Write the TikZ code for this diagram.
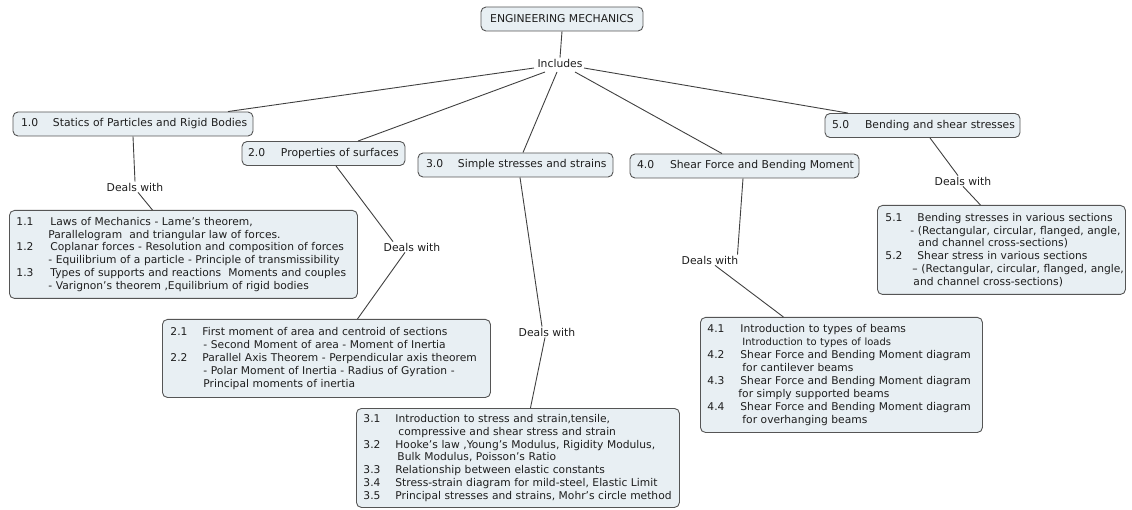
\documentclass[tikz,border=0pt]{standalone}
\usepackage{fontspec}
\setmainfont{DejaVu Sans}
\definecolor{boxfill}{HTML}{E8EFF3}
\definecolor{boxline}{HTML}{555555}
\definecolor{ink}{HTML}{1E1E1E}
\newcommand\itm[3][34pt]{\mbox{\makebox[#1][l]{#2}#3}}
\newcommand\cnt[2]{\mbox{\hspace*{#1}#2}}
\newcommand\detfont{\fontsize{10.7}{12.8}\selectfont}
\newcommand\topfont{\fontsize{10.8}{12}\selectfont}
\tikzset{
  cbox/.style={draw=boxline, fill=boxfill, rounded corners=5pt, line width=0.9pt,
    align=left, text=ink, inner ysep=3pt},
  topbox/.style={cbox, font=\topfont, minimum height=24pt},
  detbox/.style={cbox, font=\detfont, inner xsep=7pt, anchor=north west},
  lbl/.style={font=\topfont, text=ink, inner sep=1pt},
  conn/.style={draw=ink!85, line width=0.9pt}
}
\begin{document}
\begin{tikzpicture}[x=1pt,y=-1pt]
\useasboundingbox (0,0) rectangle (1132,510);

% root and linking phrase
\node[cbox, font=\topfont, minimum width=162pt, minimum height=24pt, inner xsep=6pt] (root) at (562,19) {ENGINEERING MECHANICS};
\node[lbl] (inc) at (560,63) {Includes};

% level-1 concepts
\node[topbox, inner xsep=8pt, text width=224pt] (n1) at (133,124) {\itm[32pt]{1.0}{Statics of Particles and Rigid Bodies}};
\node[topbox, inner xsep=6pt, text width=151pt] (n2) at (323.5,153.5) {\itm[33pt]{2.0}{Properties of surfaces}};
\node[topbox, inner xsep=8pt, text width=179pt] (n3) at (515.5,165) {\itm[32pt]{3.0}{Simple stresses and strains}};
\node[topbox, inner xsep=7pt, text width=215pt] (n4) at (744.5,166) {\itm[33pt]{4.0}{Shear Force and Bending Moment}};
\node[topbox, inner xsep=7pt, text width=181pt] (n5) at (922.5,125.5) {\itm[33pt]{5.0}{Bending and shear stresses}};

% linking phrases
\node[lbl] (d1) at (135,187) {Deals with};
\node[lbl] (d2) at (412,247) {Deals with};
\node[lbl] (d3) at (547,332) {Deals with};
\node[lbl] (d4) at (710,260) {Deals with};
\node[lbl] (d5) at (963,181) {Deals with};

% detail boxes
\node[detbox, text width=334pt, minimum width=348pt, minimum height=88pt] (b1) at (9,210) {%
\fontsize{10.7}{12.9}\selectfont
\itm{1.1}{Laws of Mechanics - Lame's theorem,}\\
\cnt{32pt}{Parallelogram\ \ and triangular law of forces.}\\
\itm{1.2}{Coplanar forces - Resolution and composition of forces}\\
\cnt{32pt}{- Equilibrium of a particle - Principle of transmissibility}\\
\itm{1.3}{Types of supports and reactions\ \ Moments and couples}\\
\cnt{32pt}{- Varignon's theorem ,Equilibrium of rigid bodies}};

\node[detbox, inner xsep=8pt, text width=312pt, minimum width=328pt, minimum height=78pt] (b2) at (162,319) {%
\fontsize{10.7}{12.8}\selectfont
\itm[32pt]{2.1}{First moment of area and centroid of sections}\\
\cnt{33pt}{- Second Moment of area - Moment of Inertia}\\
\itm[32pt]{2.2}{Parallel Axis Theorem - Perpendicular axis theorem}\\
\cnt{33pt}{- Polar Moment of Inertia - Radius of Gyration -}\\
\cnt{33pt}{Principal moments of inertia}};

\node[detbox, text width=309pt, minimum width=323pt, minimum height=99pt] (b3) at (356,408) {%
\fontsize{10.7}{12.8}\selectfont
\itm[32pt]{3.1}{Introduction to stress and strain,tensile,}\\
\cnt{35pt}{compressive and shear stress and strain}\\
\itm[32pt]{3.2}{Hooke’s law ,Young’s Modulus, Rigidity Modulus,}\\
\cnt{34pt}{Bulk Modulus, Poisson’s Ratio}\\
\itm[32pt]{3.3}{Relationship between elastic constants}\\
\itm[32pt]{3.4}{Stress-strain diagram for mild-steel, Elastic Limit}\\
\itm[32pt]{3.5}{Principal stresses and strains, Mohr’s circle method}};

\node[detbox, text width=268pt, minimum width=282pt, minimum height=115pt] (b4) at (700,317) {%
\fontsize{10.7}{12.9}\selectfont
\itm[33pt]{4.1}{Introduction to types of beams}\\
\cnt{35pt}{{\fontsize{10}{12.9}\selectfont Introduction to types of loads}}\\
\itm[33pt]{4.2}{Shear Force and Bending Moment diagram}\\
\cnt{35pt}{for cantilever beams}\\
\itm[33pt]{4.3}{Shear Force and Bending Moment diagram}\\
\cnt{31pt}{for simply supported beams}\\
\itm[33pt]{4.4}{Shear Force and Bending Moment diagram}\\
\cnt{35pt}{for overhanging beams}};

\node[detbox, inner xsep=8pt, text width=232pt, minimum width=248pt, minimum height=89pt] (b5) at (877,205) {%
\fontsize{10.7}{12.9}\selectfont
\itm[32pt]{5.1}{Bending stresses in various sections}\\
\cnt{25pt}{- (Rectangular, circular, flanged, angle,}\\
\cnt{33pt}{and channel cross-sections)}\\
\itm[32pt]{5.2}{Shear stress in various sections}\\
\cnt{27pt}{– (Rectangular, circular, flanged, angle,}\\
\cnt{28pt}{and channel cross-sections)}};

% connectors
\draw[conn] (root.south) -- (inc.north);
\draw[conn] ([shift={(-26,5)}]inc.center) -- ([xshift=95pt]n1.north);
\draw[conn] ([shift={(-15,9)}]inc.center) -- ([xshift=34.5pt]n2.north);
\draw[conn] ([shift={(-3,9)}]inc.center) -- ([xshift=7.5pt]n3.north);
\draw[conn] ([shift={(15,9)}]inc.center) -- ([xshift=-22.5pt]n4.north);
\draw[conn] ([shift={(24,5)}]inc.center) -- ([xshift=-74.5pt]n5.north);

\draw[conn] (n1.south) -- (d1.north);
\draw[conn] ([xshift=3pt]d1.south) -- ([xshift=-31pt]b1.north);
\draw[conn] ([xshift=12.5pt]n2.south) -- ([xshift=-19pt]d2.north);
\draw[conn] ([xshift=-7pt]d2.south) -- ([xshift=31pt]b2.north);
\draw[conn] ([xshift=4.5pt]n3.south) -- ([xshift=-5pt]d3.north);
\draw[conn] ([xshift=-2pt]d3.south) -- ([xshift=12.5pt]b3.north);
\draw[conn] ([xshift=-1.5pt]n4.south) -- ([xshift=-2pt]d4.north east);
\draw[conn] ([xshift=5pt]d4.south) -- ([xshift=-58pt]b4.north);
\draw[conn] ([xshift=7.5pt]n5.south) -- ([xshift=-5pt]d5.north);
\draw[conn] (d5.south) -- ([xshift=-21pt]b5.north);
\end{tikzpicture}
\end{document}
